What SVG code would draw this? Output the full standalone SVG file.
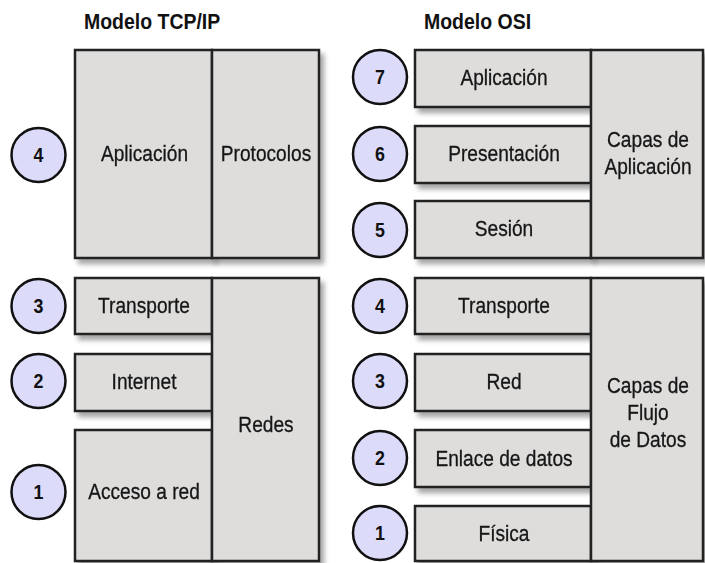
<svg xmlns="http://www.w3.org/2000/svg" width="705" height="563" viewBox="0 0 705 563">
<defs>
<filter id="sh" x="-10%" y="-10%" width="130%" height="130%">
<feGaussianBlur in="SourceAlpha" stdDeviation="2.5"/>
<feOffset dx="4" dy="5" result="b"/>
<feComponentTransfer><feFuncA type="linear" slope="0.35"/></feComponentTransfer>
<feMerge><feMergeNode/><feMergeNode in="SourceGraphic"/></feMerge>
</filter>
<style>
.bx{fill:#dedddc;stroke:#222;stroke-width:2.5}
.c{fill:#dcdcfa;stroke:#111;stroke-width:2.5}
.t{font-family:"Liberation Sans",Arial,sans-serif;font-size:22px;fill:#151515;text-anchor:middle;stroke:#151515;stroke-width:0.3}
.n{font-family:"Liberation Sans",Arial,sans-serif;font-size:21px;font-weight:bold;fill:#111;text-anchor:middle}
.h{font-family:"Liberation Sans",Arial,sans-serif;font-size:22px;font-weight:bold;fill:#111}
</style>
</defs>
<rect width="705" height="563" fill="#fff"/>
<text class="h" transform="translate(84 29) scale(0.885 1)">Modelo TCP/IP</text>
<text class="h" transform="translate(424 29) scale(0.885 1)">Modelo OSI</text>

<g id="tcp-aplicacion" filter="url(#sh)"><rect class="bx" x="75" y="50" width="137" height="208"/><text class="t" transform="translate(144.5 161) scale(0.87 1)">Aplicación</text></g>
<g id="tcp-protocolos" filter="url(#sh)"><rect class="bx" x="212" y="50" width="107" height="208"/><text class="t" transform="translate(266 161) scale(0.87 1)">Protocolos</text></g>
<g id="tcp-transporte" filter="url(#sh)"><rect class="bx" x="75" y="278" width="137" height="56"/><text class="t" transform="translate(144 313) scale(0.87 1)">Transporte</text></g>
<g id="tcp-internet" filter="url(#sh)"><rect class="bx" x="75" y="354" width="137" height="57"/><text class="t" transform="translate(144 389) scale(0.87 1)">Internet</text></g>
<g id="tcp-acceso" filter="url(#sh)"><rect class="bx" x="75" y="430" width="137" height="131"/><text class="t" transform="translate(144 499) scale(0.87 1)">Acceso a red</text></g>
<g id="tcp-redes" filter="url(#sh)"><rect class="bx" x="212" y="278" width="107" height="283"/><text class="t" transform="translate(266 432) scale(0.87 1)">Redes</text></g>

<g id="tcp-n4"><circle class="c" cx="38.5" cy="155" r="27"/><text class="n" transform="translate(38.5 162) scale(0.85 1)">4</text></g>
<g id="tcp-n3"><circle class="c" cx="38.5" cy="306" r="27"/><text class="n" transform="translate(38.5 313) scale(0.85 1)">3</text></g>
<g id="tcp-n2"><circle class="c" cx="38.5" cy="381" r="27"/><text class="n" transform="translate(38.5 388) scale(0.85 1)">2</text></g>
<g id="tcp-n1"><circle class="c" cx="38.5" cy="492" r="27"/><text class="n" transform="translate(38.5 499) scale(0.85 1)">1</text></g>

<g id="osi-aplicacion" filter="url(#sh)"><rect class="bx" x="415" y="50" width="176" height="57"/><text class="t" transform="translate(504 85) scale(0.87 1)">Aplicación</text></g>
<g id="osi-presentacion" filter="url(#sh)"><rect class="bx" x="415" y="126" width="176" height="57"/><text class="t" transform="translate(504 161) scale(0.87 1)">Presentación</text></g>
<g id="osi-sesion" filter="url(#sh)"><rect class="bx" x="415" y="201" width="176" height="57"/><text class="t" transform="translate(504 236) scale(0.87 1)">Sesión</text></g>
<g id="osi-capas-app" filter="url(#sh)"><rect class="bx" x="591" y="50" width="112" height="208"/><text class="t" transform="translate(648 147) scale(0.87 1)">Capas de</text><text class="t" transform="translate(648 174) scale(0.87 1)">Aplicación</text></g>
<g id="osi-transporte" filter="url(#sh)"><rect class="bx" x="415" y="278" width="176" height="56"/><text class="t" transform="translate(504 313) scale(0.87 1)">Transporte</text></g>
<g id="osi-red" filter="url(#sh)"><rect class="bx" x="415" y="354" width="176" height="57"/><text class="t" transform="translate(504 389) scale(0.87 1)">Red</text></g>
<g id="osi-enlace" filter="url(#sh)"><rect class="bx" x="415" y="430" width="176" height="57"/><text class="t" transform="translate(504 466) scale(0.87 1)">Enlace de datos</text></g>
<g id="osi-fisica" filter="url(#sh)"><rect class="bx" x="415" y="506" width="176" height="55"/><text class="t" transform="translate(504 541) scale(0.87 1)">Física</text></g>
<g id="osi-capas-flujo" filter="url(#sh)"><rect class="bx" x="591" y="278" width="112" height="283"/><text class="t" transform="translate(648 393) scale(0.87 1)">Capas de</text><text class="t" transform="translate(648 420) scale(0.87 1)">Flujo</text><text class="t" transform="translate(648 447) scale(0.87 1)">de Datos</text></g>

<g id="osi-n7"><circle class="c" cx="380" cy="77" r="27"/><text class="n" transform="translate(380 84) scale(0.85 1)">7</text></g>
<g id="osi-n6"><circle class="c" cx="380" cy="154" r="27"/><text class="n" transform="translate(380 161) scale(0.85 1)">6</text></g>
<g id="osi-n5"><circle class="c" cx="380" cy="230" r="27"/><text class="n" transform="translate(380 237) scale(0.85 1)">5</text></g>
<g id="osi-n4"><circle class="c" cx="380" cy="306" r="27"/><text class="n" transform="translate(380 313) scale(0.85 1)">4</text></g>
<g id="osi-n3"><circle class="c" cx="380" cy="381" r="27"/><text class="n" transform="translate(380 388) scale(0.85 1)">3</text></g>
<g id="osi-n2"><circle class="c" cx="380" cy="458" r="27"/><text class="n" transform="translate(380 465) scale(0.85 1)">2</text></g>
<g id="osi-n1"><circle class="c" cx="380" cy="533" r="27"/><text class="n" transform="translate(380 540) scale(0.85 1)">1</text></g>

<g id="connectors"/>
</svg>
